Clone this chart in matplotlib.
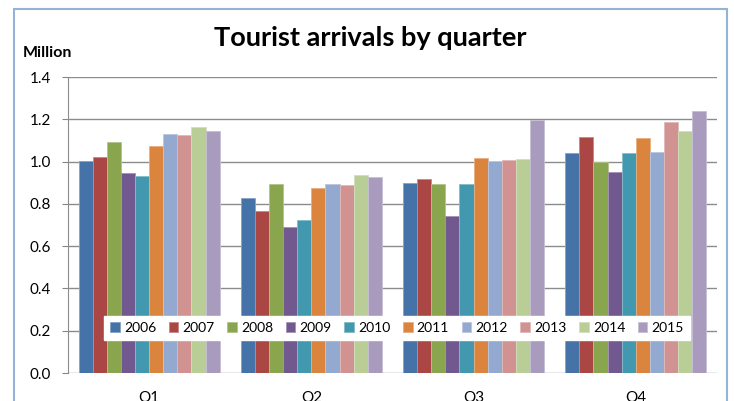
import numpy as np
import matplotlib
matplotlib.use("Agg")
from matplotlib import pyplot as plt
from matplotlib.patches import Rectangle
from matplotlib.colors import to_rgb

# data (million arrivals)
quarters = ['Q1', 'Q2', 'Q3', 'Q4']
years = ['2006', '2007', '2008', '2009', '2010', '2011', '2012', '2013', '2014', '2015']
q1 = [1.004, 1.023, 1.091, 0.945, 0.933, 1.075, 1.131, 1.124, 1.165, 1.145]
q2 = [0.828, 0.765, 0.895, 0.689, 0.725, 0.873, 0.896, 0.888, 0.936, 0.925]
q3 = [0.899, 0.917, 0.893, 0.741, 0.896, 1.017, 1.001, 1.007, 1.012, 1.197]
q4 = [1.040, 1.116, 0.996, 0.949, 1.042, 1.112, 1.047, 1.189, 1.146, 1.240]

colors = ['#4572A7', '#AA4643', '#89A54E', '#71588F', '#4198AF',
          '#DB843D', '#93A9CF', '#D19392', '#B9CD96', '#A99BBD']

plt.rcParams['font.family'] = ['Lato', 'DejaVu Sans']

fig = plt.figure(figsize=(7.34, 4.01), dpi=100)
ax = fig.add_axes([0.0926, 0.0698, 0.8842, 0.738])

values = np.array([q1, q2, q3, q4])
x = np.arange(len(quarters))
width = 0.087

def lighter(c, f=0.35):
    r, g, b = to_rgb(c)
    return (r + (1 - r) * f, g + (1 - g) * f, b + (1 - b) * f)

for i, year in enumerate(years):
    offs = (i - 4.5) * width
    ax.bar(x + offs, values[:, i], width, color=colors[i],
           edgecolor=lighter(colors[i]), linewidth=0.6, label=year, zorder=3)

ax.set_xlim(-0.5, 3.5)
ax.set_ylim(0, 1.4)
ax.set_yticks(np.arange(0, 1.41, 0.2))
ax.set_yticklabels(['%.1f' % v for v in np.arange(0, 1.41, 0.2)], fontsize=11)
ax.set_xticks(x)
ax.set_xticklabels(quarters, fontsize=11)
ax.tick_params(axis='x', length=0, pad=13)
ax.tick_params(axis='y', length=4, color='#868686', pad=8)

ax.yaxis.grid(True, color='#8c8c8c', linewidth=1.0, zorder=0)
ax.set_axisbelow(True)
for s in ['top', 'right', 'bottom']:
    ax.spines[s].set_visible(False)
ax.spines['left'].set_color('#8c8c8c')

leg = ax.legend(loc='center', bbox_to_anchor=(0.507, 0.152), ncol=10,
                fontsize=10, frameon=True, fancybox=False, framealpha=1,
                handlelength=0.7, handleheight=0.7, handletextpad=0.3,
                columnspacing=0.9, borderpad=0.4)
leg.get_frame().set_edgecolor('white')
leg.set_zorder(5)

fig.text(370 / 734, 1 - 38 / 401, 'Tourist arrivals by quarter',
         ha='center', va='center', fontsize=19.5, fontweight='bold')
fig.text(23 / 734, 1 - 53 / 401, 'Million', ha='left', va='center',
         fontsize=11.5, fontweight='bold')

# chart border
fig.patches.append(Rectangle((14 / 734, -0.05), 713 / 734, 1.05 - 9 / 401,
                             transform=fig.transFigure, fill=False,
                             edgecolor='#95B3D7', linewidth=1.5))

fig.savefig('out.png', dpi=100)
